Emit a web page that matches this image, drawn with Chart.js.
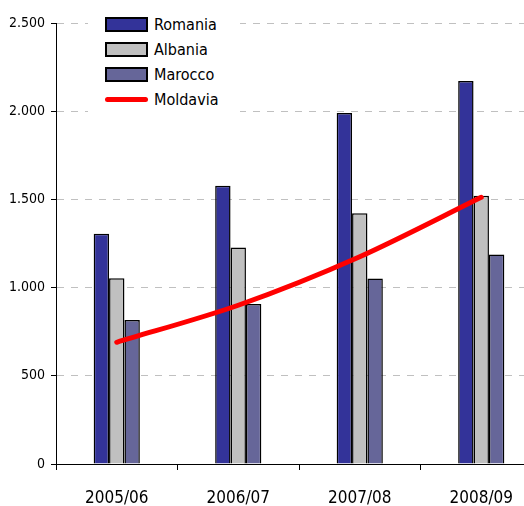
<!DOCTYPE html>
<html>
<head>
<meta charset="utf-8">
<script src="https://cdn.jsdelivr.net/npm/chart.js@4/dist/chart.umd.min.js"></script>
<style>
  body { margin: 0; overflow: hidden; background: #fff; }
  #wrap { position: relative; width: 548px; height: 506px; }
  #legend { position: absolute; left: 88px; top: 8px; width: 152px; height: 106px; background: #fff;
            font: 16px "DejaVu Sans Condensed", sans-serif; color: #000; }
  .row { position: absolute; left: 17px; height: 16px; display: flex; align-items: center; white-space: nowrap; }
  .sw { width: 43px; height: 15px; box-sizing: border-box; border: 2px solid #000; margin-right: 6px; }
  .ln { width: 43px; height: 5px; border-radius: 3px; margin-right: 6px; }
</style>
</head>
<body>
<div id="wrap">
  <canvas id="myChart" width="548" height="506"></canvas>
  <div id="legend"></div>
</div>
<script>
const categories = ['2005/06', '2006/07', '2007/08', '2008/09'];
const romania = [1305, 1578, 1990, 2171];
const albania = [1053, 1228, 1421, 1521];
const marocco = [816, 907, 1052, 1188];
const moldavia = [690, 900, 1175, 1512];
const yTicks = [0, 500, 1000, 1500, 2000, 2500];

const FONT = '"DejaVu Sans Condensed", sans-serif';

function formatThousands(v) {
    return String(v).replace(/\B(?=(\d{3})+(?!\d))/g, '.');
}

const chart = new Chart("myChart", {
    data: {
        labels: categories,
        datasets: [
            { type: 'bar', label: 'Romania', data: romania, backgroundColor: '#333399', borderColor: '#000', borderWidth: 1.5, order: 1 },
            { type: 'bar', label: 'Albania', data: albania, backgroundColor: '#c0c0c0', borderColor: '#000', borderWidth: 1.5, order: 1 },
            { type: 'bar', label: 'Marocco', data: marocco, backgroundColor: '#666699', borderColor: '#000', borderWidth: 1.5, order: 1 },
            { type: 'line', label: 'Moldavia', data: moldavia, borderColor: '#ff0000', borderWidth: 5, borderCapStyle: 'round',
              tension: 0.3, pointRadius: 0, fill: false, order: 0 }
        ]
    },
    options: {
        responsive: false,
        animation: false,
        layout: { padding: { top: 23, right: 6, bottom: 0, left: 0 } },
        datasets: { bar: { barPercentage: 1, categoryPercentage: 0.38 } },
        plugins: { legend: { display: false }, tooltip: { enabled: false } },
        scales: {
            x: {
                afterFit: s => { s.height = 42; },
                grid: { drawOnChartArea: false, drawTicks: true, tickLength: 6, tickColor: '#000', offset: true },
                border: { color: '#000', width: 1 },
                ticks: { font: { family: FONT, size: 17 }, color: '#000', padding: 18, maxRotation: 0 }
            },
            y: {
                min: 0,
                max: 2500,
                afterBuildTicks: s => { s.ticks = yTicks.map(v => ({ value: v })); },
                afterFit: s => { s.width = 56; },
                ticks: { font: { family: FONT, size: 14 }, color: '#000', padding: 6, callback: v => formatThousands(v) },
                grid: { color: '#c0c0c0', tickColor: '#000', tickLength: 5, tickBorderDash: [] },
                border: { color: '#000', width: 1, dash: [7, 7] }
            }
        }
    }
});

// html legend built from the datasets
const legend = document.getElementById("legend");
chart.data.datasets.forEach((ds, i) => {
    const row = document.createElement("div");
    row.className = "row";
    row.style.top = (8 + i * 25) + "px";
    const sw = document.createElement("span");
    if (ds.type === 'line') {
        sw.className = "ln";
        sw.style.background = ds.borderColor;
    } else {
        sw.className = "sw";
        sw.style.background = ds.backgroundColor;
    }
    row.appendChild(sw);
    row.appendChild(document.createTextNode(ds.label));
    legend.appendChild(row);
});
</script>
</body>
</html>
